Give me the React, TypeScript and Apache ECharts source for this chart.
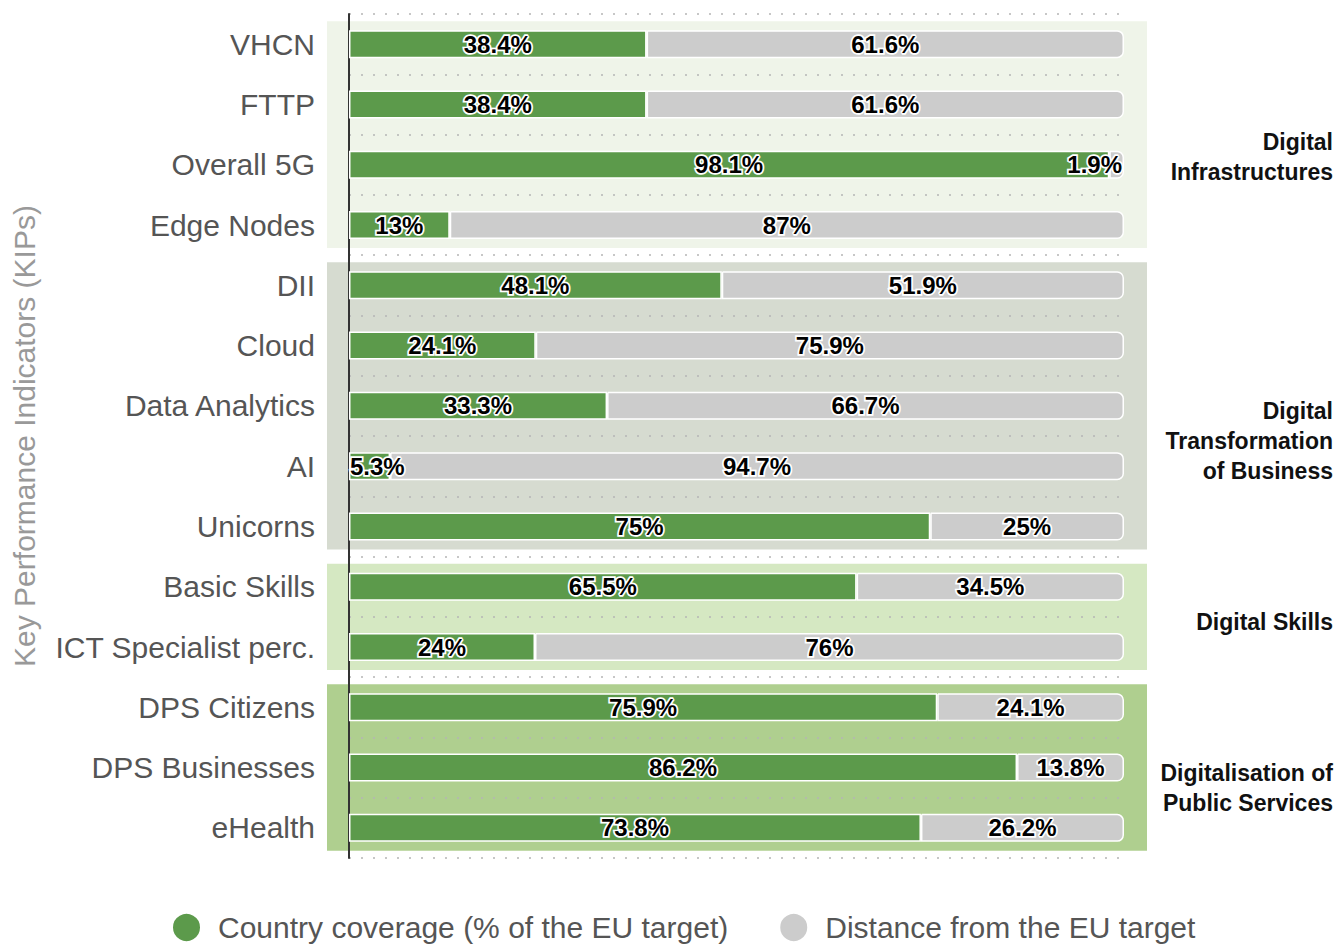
import React, { useEffect, useRef } from "react";
import * as echarts from "echarts";

const categories = [
  "VHCN", "FTTP", "Overall 5G", "Edge Nodes",
  "DII", "Cloud", "Data Analytics", "AI", "Unicorns",
  "Basic Skills", "ICT Specialist perc.",
  "DPS Citizens", "DPS Businesses", "eHealth",
];
const coverage = [38.4, 38.4, 98.1, 13, 48.1, 24.1, 33.3, 5.3, 75, 65.5, 24, 75.9, 86.2, 73.8];
const distance = [61.6, 61.6, 1.9, 87, 51.9, 75.9, 66.7, 94.7, 25, 34.5, 76, 24.1, 13.8, 26.2];
const seriesNames = ["Country coverage (% of the EU target)", "Distance from the EU target"];
const groupNames = [
  "Digital\nInfrastructures",
  "Digital\nTransformation\nof Business",
  "Digital Skills",
  "Digitalisation of\nPublic Services",
];
const groupFirst = ["VHCN", "DII", "Basic Skills", "DPS Citizens"];
const groupLast = ["Edge Nodes", "Unicorns", "ICT Specialist perc.", "eHealth"];
const groupColors = ["#eff4e9", "#d6dbd0", "#d5e8c2", "#afcf8f"];
const groupLabelOffsets = [22, 35, 5, 20];

const FONT = '"Liberation Sans", Arial, sans-serif';
const GREEN = "#5c9a4b";
const GREY = "#cccccc";

export default function App() {
  const ref = useRef<HTMLDivElement>(null);
  useEffect(() => {
    document.body.style.margin = "0";
    const chart = echarts.init(ref.current!, null, { renderer: "svg" });
    const labelBase = {
      show: true,
      position: "inside",
      formatter: (p: any) => `${p.value}%`,
      color: "#000",
      fontSize: 24,
      fontWeight: "bold",
      fontFamily: FONT,
      textBorderColor: "#fff",
      textBorderWidth: 3.5,
    };
    const greenLabelPos: Record<string, string> = { AI: "insideLeft" };
    const greyLabelPos: Record<string, string> = { "Overall 5G": "insideRight" };
    chart.setOption({
      animation: false,
      textStyle: { fontFamily: FONT },
      grid: { left: 349, right: 214, top: 14, bottom: 91 },
      legend: {
        data: seriesNames,
        left: 166,
        top: 907,
        icon: "circle",
        itemWidth: 29,
        itemHeight: 29,
        itemGap: 50,
        textStyle: { fontSize: 30, color: "#555", fontFamily: FONT, padding: [0, 0, 0, 12] },
      },
      xAxis: { type: "value", min: 0, max: 100, show: false },
      yAxis: {
        type: "category",
        data: categories,
        inverse: true,
        name: "Key Performance Indicators (KIPs)",
        nameLocation: "middle",
        nameGap: 310,
        nameTextStyle: { fontSize: 30, color: "#999", fontFamily: FONT },
        axisLine: { show: true, lineStyle: { color: "#333", width: 2 } },
        axisTick: { show: false },
        axisLabel: { interval: 0, fontSize: 30, color: "#555", margin: 34, fontFamily: FONT },
        splitLine: { show: true, interval: 0, lineStyle: { type: [2, 10], color: "#b5b5b5", width: 1.5 } },
      },
      series: [
        {
          name: seriesNames[0],
          type: "bar",
          stack: "total",
          barWidth: 28,
          itemStyle: { color: GREEN, borderColor: "#fff", borderWidth: 1.5 },
          label: labelBase,
          data: coverage.map((v, i) =>
            greenLabelPos[categories[i]]
              ? { value: v, label: { position: greenLabelPos[categories[i]], distance: 1 } }
              : v
          ),
        },
        {
          name: seriesNames[1],
          type: "bar",
          stack: "total",
          barWidth: 28,
          itemStyle: { color: GREY, borderColor: "#fff", borderWidth: 1.5, borderRadius: [0, 6, 6, 0] },
          label: labelBase,
          data: distance.map((v, i) =>
            greyLabelPos[categories[i]]
              ? { value: v, label: { position: greyLabelPos[categories[i]], distance: 2 } }
              : v
          ),
        },
      ],
    });

    const x0 = chart.convertToPixel({ xAxisIndex: 0 }, 0) as number;
    const x1 = chart.convertToPixel({ xAxisIndex: 0 }, 100) as number;
    const graphics: any[] = [];
    groupNames.forEach((name, g) => {
      const yA = chart.convertToPixel({ yAxisIndex: 0 }, groupFirst[g]) as number;
      const yB = chart.convertToPixel({ yAxisIndex: 0 }, groupLast[g]) as number;
      graphics.push({
        type: "rect",
        silent: true,
        z: -10,
        shape: { x: x0 - 22, y: yA - 23, width: x1 - x0 + 45, height: yB - yA + 46 },
        style: { fill: groupColors[g] },
      });
      graphics.push({
        type: "text",
        silent: true,
        z: 10,
        x: 1333,
        y: (yA + yB) / 2 + groupLabelOffsets[g],
        style: {
          text: name,
          fill: "#111",
          fontSize: 23,
          fontWeight: "bold",
          fontFamily: FONT,
          align: "right",
          verticalAlign: "middle",
          lineHeight: 30,
        },
      });
    });
    chart.setOption({ graphic: graphics });
    return () => chart.dispose();
  }, []);
  return <div ref={ref} style={{ width: 1338, height: 949 }} />;
}
